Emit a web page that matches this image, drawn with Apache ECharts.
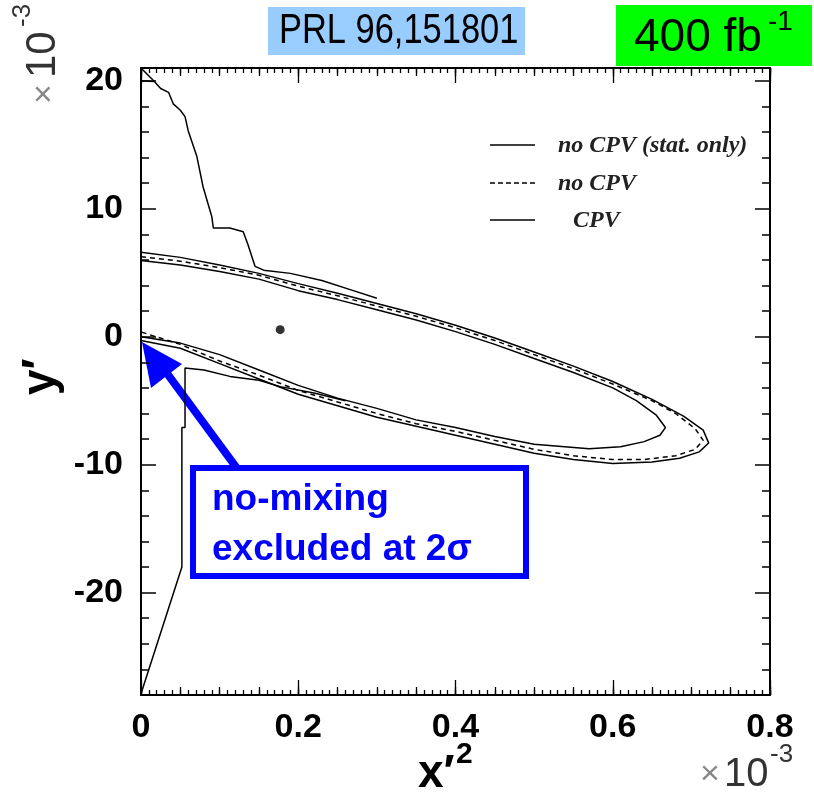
<!DOCTYPE html>
<html><head><meta charset="utf-8">
<script src="https://cdn.jsdelivr.net/npm/echarts@6/dist/echarts.min.js"></script>
<style>html,body{margin:0;padding:0;background:#fff}#c{width:814px;height:801px}</style>
</head><body><div id="c"></div>
<script>
// axis ticks (x in units of 1e-3, y in units of 1e-3)
const xMajorTicks = [0, 0.2, 0.4, 0.6, 0.8];
const xMidTicks = [0,0.05,0.1,0.15,0.2,0.25,0.3,0.35,0.4,0.45,0.5,0.55,0.6,0.65,0.7,0.75,0.8];
const xMinorTicks = [0,0.01,0.02,0.03,0.04,0.05,0.06,0.07,0.08,0.09,0.1,0.11,0.12,0.13,0.14,0.15,0.16,0.17,0.18,0.19,0.2,
  0.21,0.22,0.23,0.24,0.25,0.26,0.27,0.28,0.29,0.3,0.31,0.32,0.33,0.34,0.35,0.36,0.37,0.38,0.39,0.4,
  0.41,0.42,0.43,0.44,0.45,0.46,0.47,0.48,0.49,0.5,0.51,0.52,0.53,0.54,0.55,0.56,0.57,0.58,0.59,0.6,
  0.61,0.62,0.63,0.64,0.65,0.66,0.67,0.68,0.69,0.7,0.71,0.72,0.73,0.74,0.75,0.76,0.77,0.78,0.79,0.8];
const yMajorTicks = [-20, -10, 0, 10, 20];
const yMinorTicks = [-28,-26,-24,-22,-20,-18,-16,-14,-12,-10,-8,-6,-4,-2,0,2,4,6,8,10,12,14,16,18,20];

// best-fit point
const bestFit = [[0.177, 0.55]];

// "no CPV (stat. only)" contour (solid)
const statOnly = [[0,5.95],[0.05,5.6],[0.1,5.1],[0.15,4.5],[0.2,3.6],[0.25,2.9],[0.3,2.1],[0.35,1.3],[0.4,0.4],[0.45,-0.6],[0.5,-1.7],[0.55,-2.8],[0.6,-4.0],[0.63,-5.0],[0.655,-6.1],[0.667,-7.1],[0.66,-7.7],[0.64,-8.2],[0.61,-8.6],[0.57,-8.75],[0.5,-8.4],[0.45,-7.8],[0.4,-7.1],[0.35,-6.5],[0.3,-5.6],[0.25,-4.8],[0.2,-3.8],[0.15,-2.6],[0.1,-1.4],[0.05,-0.5],[0,0.0]];

// "no CPV" contour (dashed)
const noCPV = [[0,6.25],[0.05,5.9],[0.1,5.4],[0.15,4.8],[0.2,3.95],[0.25,3.2],[0.3,2.4],[0.35,1.6],[0.4,0.7],[0.45,-0.3],[0.5,-1.4],[0.55,-2.5],[0.6,-3.7],[0.65,-5.0],[0.68,-6.0],[0.705,-7.2],[0.715,-8.1],[0.705,-8.8],[0.68,-9.3],[0.64,-9.6],[0.6,-9.6],[0.55,-9.3],[0.5,-8.8],[0.45,-8.1],[0.4,-7.4],[0.35,-6.8],[0.3,-6.0],[0.25,-5.1],[0.2,-4.2],[0.15,-3.0],[0.1,-1.9],[0.05,-0.6],[0,0.37]];

// "CPV" contour (solid): band part
const cpvBand = [[0,6.6],[0.05,6.2],[0.1,5.6],[0.15,4.95],[0.2,4.15],[0.25,3.4],[0.3,2.6],[0.35,1.8],[0.4,0.9],[0.45,-0.1],[0.5,-1.2],[0.55,-2.3],[0.6,-3.5],[0.65,-4.9],[0.69,-6.2],[0.715,-7.3],[0.722,-8.3],[0.71,-9.0],[0.685,-9.5],[0.65,-9.8],[0.6,-9.9],[0.55,-9.6],[0.5,-9.1],[0.45,-8.4],[0.4,-7.7],[0.35,-7.0],[0.3,-6.3],[0.25,-5.4],[0.2,-4.5],[0.15,-3.3],[0.1,-2.1],[0.05,-0.9],[0,-0.3]];
// "CPV" contour: upper open branch
const cpvUpper = [[0,20.0],[0.017,19.95],[0.025,19.4],[0.035,19.1],[0.041,18.2],[0.05,17.7],[0.056,17.2],[0.06,16.1],[0.071,14.1],[0.079,11.7],[0.09,9.4],[0.092,8.5],[0.113,8.5],[0.13,8.2],[0.136,7.2],[0.145,5.5],[0.156,5.2],[0.19,4.95],[0.23,4.4],[0.27,3.6],[0.3,3.0]];
const cpvCorner = [[0,21],[0.017,19.95]];
// "CPV" contour: lower open branch
const cpvLower = [[0.26,-5.0],[0.22,-4.4],[0.177,-3.9],[0.15,-3.4],[0.113,-3.1],[0.08,-2.6],[0.056,-2.45],[0.056,-7.1],[0.052,-7.1],[0.052,-18.0],[0,-27.9]];

const chart = echarts.init(document.getElementById('c'), null, {renderer:'canvas'});
const black = '#000';
const lab = {fontFamily:'Liberation Sans, Arial, sans-serif', fontWeight:'bold', fontSize:34, color:'#000'};

function xAx(pos, ticks, len, main){
  return {type:'value', position:pos, min:0, max:0.8,
    axisLine:{show:main, onZero:false, lineStyle:{color:black,width:2}},
    axisTick:{show:true, inside:true, length:len, customValues:ticks, lineStyle:{color:black,width:1.3}},
    axisLabel: (main && pos==='bottom') ? Object.assign({show:true, margin:16, customValues:xMajorTicks, formatter:v=> v===0?'0':v.toFixed(1)}, lab) : {show:false},
    splitLine:{show:false}};
}
function yAx(pos, ticks, len, main){
  return {type:'value', position:pos, min:-28, max:21,
    axisLine:{show:main, onZero:false, lineStyle:{color:black,width:2}},
    axisTick:{show:true, inside:true, length:len, customValues:ticks, lineStyle:{color:black,width:1.5}},
    axisLabel: (main && pos==='left') ? Object.assign({show:true, margin:18, customValues:yMajorTicks}, lab) : {show:false},
    splitLine:{show:false}};
}
const lineS = (name, data, type) => ({type:'line', name, data, showSymbol:false, symbol:'none', silent:true,
  lineStyle:{color:black, width:1.5, type: type||'solid'}, animation:false, z:3});

chart.setOption({
  animation:false,
  grid:{left:141, right:44, top:68, bottom:106},
  xAxis:[xAx('bottom',xMajorTicks,15,true), xAx('bottom',xMidTicks,8,false), xAx('bottom',xMinorTicks,5,false),
         xAx('top',xMajorTicks,15,true), xAx('top',xMidTicks,8,false), xAx('top',xMinorTicks,5,false)],
  yAxis:[yAx('left',yMajorTicks,15,true), yAx('left',yMinorTicks,8,false), yAx('right',yMajorTicks,15,true), yAx('right',yMinorTicks,8,false)],
  series:[
    lineS('no CPV (stat. only)', statOnly),
    lineS('no CPV', noCPV, [5,4]),
    lineS('CPV', cpvBand),
    lineS('CPV', cpvUpper),
    lineS('CPV', cpvCorner),
    lineS('CPV', cpvLower),
    {type:'scatter', data:bestFit, symbolSize:9, itemStyle:{color:black}, silent:true, z:4}
  ],
  graphic:[
    // top labels
    {type:'rect', shape:{x:268,y:7,width:257,height:48}, style:{fill:'#99ccff'}},
    {type:'text', x:279, y:31, scaleX:0.82, style:{text:'PRL 96,151801', font:'42px "Liberation Sans", Arial, sans-serif', fill:'#000', textVerticalAlign:'middle'}},
    {type:'rect', shape:{x:616,y:5,width:196,height:61}, style:{fill:'#00ff00'}},
    {type:'text', x:634, y:38, style:{text:'400 fb', font:'46px "Liberation Sans", Arial, sans-serif', fill:'#000', textVerticalAlign:'middle'}},
    {type:'text', x:768, y:22, style:{text:'-1', font:'28px "Liberation Sans", Arial, sans-serif', fill:'#000', textVerticalAlign:'middle'}},
    // legend
    {type:'line', shape:{x1:490,y1:145,x2:535,y2:145}, style:{stroke:'#000',lineWidth:1.5}},
    {type:'line', shape:{x1:490,y1:183,x2:535,y2:183}, style:{stroke:'#000',lineWidth:1.5,lineDash:[5,3]}},
    {type:'line', shape:{x1:490,y1:220,x2:535,y2:220}, style:{stroke:'#000',lineWidth:1.5}},
    {type:'text', x:558, y:146, style:{text:'no CPV (stat. only)', font:'italic bold 24px "Liberation Serif", "Times New Roman", serif', fill:'#222', textVerticalAlign:'middle'}},
    {type:'text', x:558, y:184, style:{text:'no CPV', font:'italic bold 24px "Liberation Serif", "Times New Roman", serif', fill:'#222', textVerticalAlign:'middle'}},
    {type:'text', x:573, y:221, style:{text:'CPV', font:'italic bold 24px "Liberation Serif", "Times New Roman", serif', fill:'#222', textVerticalAlign:'middle'}},
    // axis titles
    {type:'text', x:418, y:797, style:{text:'x\u2032', font:'bold 46px "Liberation Sans", Arial, sans-serif', fill:'#000', textVerticalAlign:'bottom'}},
    {type:'text', x:456, y:770, style:{text:'2', font:'bold 30px "Liberation Sans", Arial, sans-serif', fill:'#000', textVerticalAlign:'bottom'}},
    {type:'text', x:700, y:792, style:{text:'\u00d7', font:'34px "Liberation Sans", Arial, sans-serif', fill:'#888', textVerticalAlign:'bottom'}},
    {type:'text', x:724, y:795, style:{text:'10', font:'40px "Liberation Sans", Arial, sans-serif', fill:'#333', textVerticalAlign:'bottom'}},
    {type:'text', x:770, y:768, style:{text:'-3', font:'26px "Liberation Sans", Arial, sans-serif', fill:'#333', textVerticalAlign:'bottom'}},
    {type:'group', x:64, y:395, rotation:Math.PI/2, children:[
      {type:'text', x:0, y:0, style:{text:'y\u2032', font:'bold 46px "Liberation Sans", Arial, sans-serif', fill:'#000', textVerticalAlign:'bottom'}}
    ]},
    {type:'group', x:62, y:104, rotation:Math.PI/2, children:[
      {type:'text', x:0, y:0, style:{text:'\u00d7', font:'34px "Liberation Sans", Arial, sans-serif', fill:'#888', textVerticalAlign:'bottom'}},
      {type:'text', x:26, y:2, style:{text:'10', font:'42px "Liberation Sans", Arial, sans-serif', fill:'#333', textVerticalAlign:'bottom'}},
      {type:'text', x:77, y:-26, style:{text:'-3', font:'26px "Liberation Sans", Arial, sans-serif', fill:'#333', textVerticalAlign:'bottom'}}
    ]},
    // annotation
    {type:'line', shape:{x1:236,y1:467,x2:166,y2:372}, style:{stroke:'#0000ff', lineWidth:8}},
    {type:'polygon', shape:{points:[[142,342],[182,364],[151,388]]}, style:{fill:'#0000ff'}},
    {type:'rect', shape:{x:193,y:468,width:333,height:108}, style:{fill:'none', stroke:'#0000ff', lineWidth:6}},
    {type:'text', x:212, y:500, style:{text:'no-mixing', font:'bold 37px "Liberation Sans", Arial, sans-serif', fill:'#0000ff', textVerticalAlign:'middle'}},
    {type:'text', x:212, y:550, style:{text:'excluded at 2\u03c3', font:'bold 37px "Liberation Sans", Arial, sans-serif', fill:'#0000ff', textVerticalAlign:'middle'}}
  ]
});
</script></body></html>
